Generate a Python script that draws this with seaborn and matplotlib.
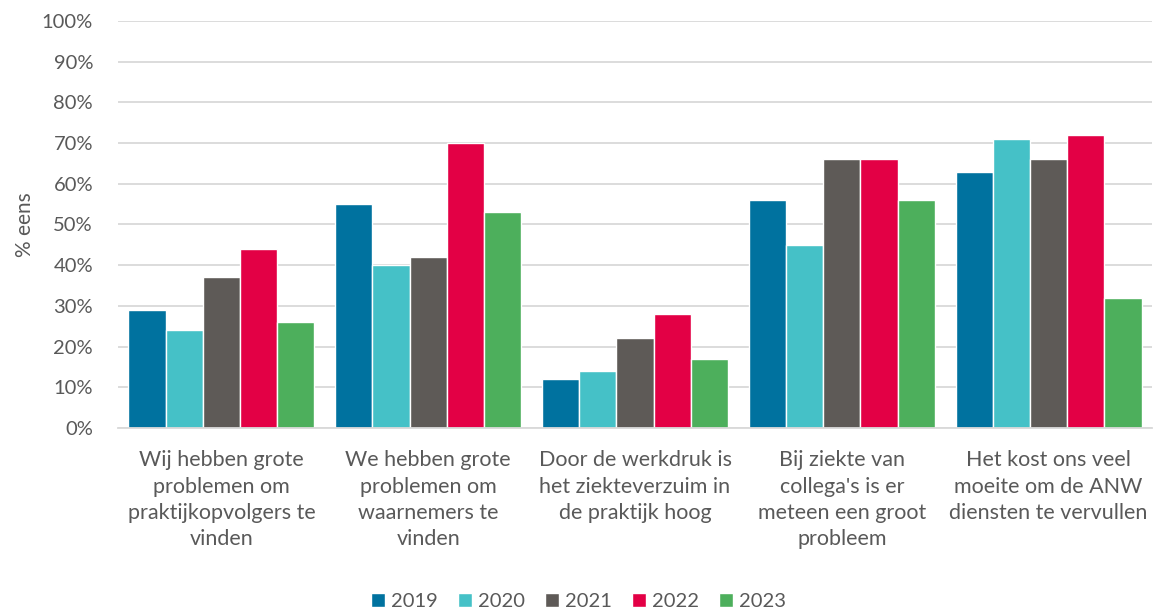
import pandas as pd
import matplotlib.pyplot as plt
import seaborn as sns
from matplotlib.ticker import PercentFormatter

# data
categories = [
    "Wij hebben grote\nproblemen om\npraktijkopvolgers te\nvinden",
    "We hebben grote\nproblemen om\nwaarnemers te\nvinden",
    "Door de werkdruk is\nhet ziekteverzuim in\nde praktijk hoog",
    "Bij ziekte van\ncollega's is er\nmeteen een groot\nprobleem",
    "Het kost ons veel\nmoeite om de ANW\ndiensten te vervullen",
]
years = ["2019", "2020", "2021", "2022", "2023"]
v2019 = [29, 55, 12, 56, 63]
v2020 = [24, 40, 14, 45, 71]
v2021 = [37, 42, 22, 66, 66]
v2022 = [44, 70, 28, 66, 72]
v2023 = [26, 53, 17, 56, 32]
colors = ["#00729F", "#45C1C7", "#5E5A57", "#E30045", "#4DAF5C"]

rows = []
for yr, vals in zip(years, [v2019, v2020, v2021, v2022, v2023]):
    for cat, v in zip(categories, vals):
        rows.append({"cat": cat, "year": yr, "val": v})
df = pd.DataFrame(rows)

sns.set_theme(style="white")
plt.rcParams["font.family"] = ["Lato", "DejaVu Sans"]
grey = "#595959"

fig = plt.figure(figsize=(11.57, 6.12), dpi=100)
ax = fig.add_axes([0.102, 0.3007, 0.8937, 0.665])
sns.barplot(data=df, x="cat", y="val", hue="year", palette=colors,
            width=0.9, ax=ax, saturation=1, legend=True)

ax.set_ylim(0, 100)
ax.set_yticks(range(0, 101, 10))
ax.yaxis.set_major_formatter(PercentFormatter(decimals=0))
ax.grid(axis="y", color="#D9D9D9", linewidth=1.3)
ax.set_axisbelow(True)
for s in ["top", "right", "left"]:
    ax.spines[s].set_visible(False)
ax.spines["bottom"].set_color("#D9D9D9")
ax.spines["bottom"].set_linewidth(1.3)
ax.tick_params(axis="y", length=0, colors=grey, labelsize=14.5, pad=18)
ax.tick_params(axis="x", length=0, colors=grey, labelsize=15.5, pad=16)
for lbl in ax.get_xticklabels():
    lbl.set_linespacing(1.4)
ax.set_xlabel("")
ax.set_ylabel("% eens", color=grey, fontsize=15, labelpad=5)

# legend centred on the whole figure, at the bottom
ax.legend(loc="lower center", bbox_to_anchor=(0.5, -0.02), bbox_transform=fig.transFigure,
          ncol=5, frameon=False, fontsize=14.5, labelcolor=grey,
          handlelength=0.7, handleheight=0.7, handletextpad=0.3,
          columnspacing=1.0, borderpad=0.2)

fig.savefig("out.png", dpi=100)
